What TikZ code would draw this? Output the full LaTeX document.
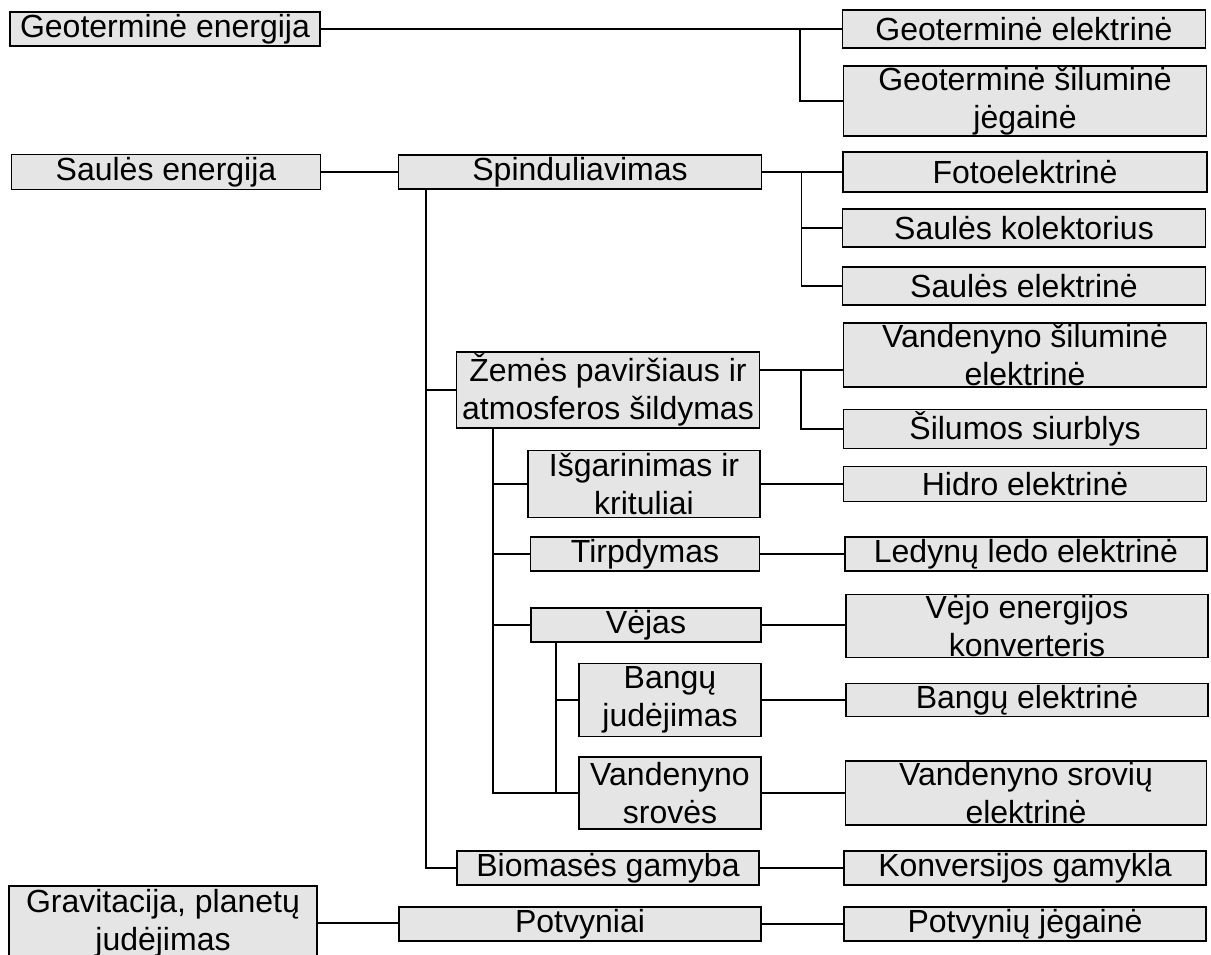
\documentclass[tikz,border=0pt]{standalone}
\usepackage{fontspec}
\setmainfont{Liberation Sans}
\tikzset{blokas/.style={draw,fill=gray!20,line width=1.5pt,inner sep=0pt,align=center,font=\fontsize{32}{38}\selectfont},
	jungtis/.style={line width=1.5pt}}
\begin{document}
\begin{tikzpicture}[x=1pt,y=-1pt]
	\useasboundingbox (0,0) rectangle (1211,955);
	\node [blokas,minimum width=310pt,minimum height=34pt] (geo) at (165,29) {Geoterminė energija};
	\node [blokas,minimum width=363pt,minimum height=38pt] (geoel) at (1024,29) {Geoterminė elektrinė};
	\node [blokas,minimum width=363pt,minimum height=70pt] (geosil) at (1025,101) {Geoterminė šiluminė\\jėgainė};
	\node [blokas,minimum width=309pt,minimum height=35pt] (saule) at (166,172) {Saulės energija};
	\node [blokas,minimum width=363pt,minimum height=34pt] (spind) at (580,172) {Spinduliavimas};
	\node [blokas,minimum width=364pt,minimum height=40pt] (foto) at (1025,172) {Fotoelektrinė};
	\node [blokas,minimum width=363pt,minimum height=38pt] (kol) at (1024,228) {Saulės kolektorius};
	\node [blokas,minimum width=363pt,minimum height=38pt] (sel) at (1024,286) {Saulės elektrinė};
	\node [blokas,minimum width=303pt,minimum height=76pt] (zem) at (608,390) {Žemės paviršiaus ir\\atmosferos šildymas};
	\node [blokas,minimum width=363pt,minimum height=64pt] (vsil) at (1025,355) {Vandenyno šiluminė\\elektrinė};
	\node [blokas,minimum width=363pt,minimum height=39pt] (siurb) at (1025,429) {Šilumos siurblys};
	\node [blokas,minimum width=232pt,minimum height=67pt] (isg) at (644,484) {Išgarinimas ir\\krituliai};
	\node [blokas,minimum width=363pt,minimum height=35pt] (hidro) at (1025,484) {Hidro elektrinė};
	\node [blokas,minimum width=229pt,minimum height=34pt] (tirp) at (645,554) {Tirpdymas};
	\node [blokas,minimum width=362pt,minimum height=34pt] (led) at (1026,554) {Ledynų ledo elektrinė};
	\node [blokas,minimum width=230pt,minimum height=34pt] (vejas) at (646,625) {Vėjas};
	\node [blokas,minimum width=362pt,minimum height=63pt] (vkonv) at (1027,626) {Vėjo energijos\\konverteris};
	\node [blokas,minimum width=182pt,minimum height=73pt] (bang) at (670,700) {Bangų\\judėjimas};
	\node [blokas,minimum width=362pt,minimum height=33pt] (bel) at (1027,700) {Bangų elektrinė};
	\node [blokas,minimum width=182pt,minimum height=72pt] (vsrov) at (670,793) {Vandenyno\\srovės};
	\node [blokas,minimum width=361pt,minimum height=64pt] (vsel) at (1026,793) {Vandenyno srovių\\elektrinė};
	\node [blokas,minimum width=302pt,minimum height=34pt] (bio) at (608,868) {Biomasės gamyba};
	\node [blokas,minimum width=362pt,minimum height=34pt] (konv) at (1025,868) {Konversijos gamykla};
	\node [blokas,minimum width=308pt,minimum height=74pt] (grav) at (163,923) {Gravitacija, planetų\\judėjimas};
	\node [blokas,minimum width=362pt,minimum height=34pt] (potv) at (580,924) {Potvyniai};
	\node [blokas,minimum width=362pt,minimum height=34pt] (potvj) at (1025,924) {Potvynių jėgainė};
	\coordinate (zemsak) at (801,370);
	\draw [jungtis] (geo.east) -- (geoel.west |- geo.east);
	\draw [jungtis] (geoel.west) ++(-42,0) |- (geosil.west);
	\draw [jungtis] (saule.east) -- (spind.west |- saule.east);
	\draw [jungtis] (spind.east) -- (foto.west |- spind.east);
	\draw [jungtis] (foto.west) ++(-41,0) |- (kol.west);
	\draw [jungtis] (foto.west) ++(-41,0) |- (sel.west);
	\draw [jungtis] ([xshift=28pt]spind.south west) |- (zem.west);
	\draw [jungtis] ([xshift=28pt]spind.south west) |- (bio.west);
	\draw [jungtis] (zem.east |- zemsak) -- (vsil.west |- zemsak);
	\draw [jungtis] (zemsak) |- (siurb.west);
	\draw [jungtis] ([xshift=37pt]zem.south west) |- (isg.west);
	\draw [jungtis] ([xshift=37pt]zem.south west) |- (tirp.west);
	\draw [jungtis] ([xshift=37pt]zem.south west) |- (vejas.west);
	\draw [jungtis] ([xshift=37pt]zem.south west) |- (vsrov.west);
	\draw [jungtis] ([xshift=25.5pt]vejas.south west) |- (bang.west);
	\draw [jungtis] ([xshift=25.5pt]vejas.south west) |- (vsrov.west);
	\draw [jungtis] (isg.east) -- (hidro.west |- isg.east);
	\draw [jungtis] (tirp.east) -- (led.west |- tirp.east);
	\draw [jungtis] (vejas.east) -- (vkonv.west |- vejas.east);
	\draw [jungtis] (bang.east) -- (bel.west |- bang.east);
	\draw [jungtis] (vsrov.east) -- (vsel.west |- vsrov.east);
	\draw [jungtis] (bio.east) -- (konv.west |- bio.east);
	\draw [jungtis] (grav.east) -- (potv.west |- grav.east);
	\draw [jungtis] (potv.east) -- (potvj.west |- potv.east);
\end{tikzpicture}
\end{document}
